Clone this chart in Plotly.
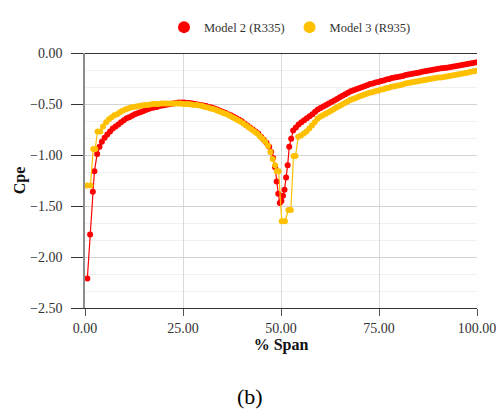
import plotly.graph_objects as go

# ---- data ----
series_names = ["Model 2 (R335)", "Model 3 (R935)"]

span_m2 = [0.6, 1.3, 2.0, 2.4, 3.1, 3.7, 4.3, 5.0, 5.7, 6.4, 7.1, 7.8, 8.5, 9.2, 9.9,
           10.6, 11.3, 12.0, 12.7, 13.4, 14.1, 14.8, 15.5, 16.2, 16.9, 17.6, 18.3, 19.0, 19.7,
           20.4, 21.1, 21.8, 22.5, 23.2, 23.9, 24.6, 25.3, 26.0, 26.7, 27.4, 28.1, 28.8, 29.5,
           30.2, 30.9, 31.6, 32.3, 33.0, 33.7, 34.4, 35.1, 35.8, 36.5, 37.2, 37.9, 38.6, 39.3,
           40.0, 40.7, 41.4, 42.1, 42.8, 43.5, 44.2, 44.9, 45.6, 46.3, 47.0, 47.5, 48.0, 48.5,
           48.9, 49.3, 49.7, 50.1, 50.5, 50.9, 51.3, 51.7, 52.1, 52.6, 53.1,
           53.8, 54.5, 55.2, 55.9, 56.6, 57.3, 58.0, 58.7, 59.4, 60.1, 60.8, 61.5, 62.2, 62.9,
           63.6, 64.3, 65.0, 65.7, 66.4, 67.1, 67.8, 68.5, 69.2, 69.9, 70.6, 71.3, 72.0, 72.7,
           73.4, 74.1, 74.8, 75.5, 76.2, 76.9, 77.6, 78.3, 79.0, 79.7, 80.4, 81.1, 81.8, 82.5,
           83.2, 83.9, 84.6, 85.3, 86.0, 86.7, 87.4, 88.1, 88.8, 89.5, 90.2, 90.9, 91.6, 92.3,
           93.0, 93.7, 94.4, 95.1, 95.8, 96.5, 97.2, 97.9, 98.6, 99.3, 100.0]
cpe_m2 = [-2.21, -1.78, -1.36, -1.16, -0.99, -0.92, -0.87, -0.83, -0.80, -0.77, -0.74, -0.72, -0.70, -0.68, -0.66,
          -0.64, -0.63, -0.615, -0.60, -0.59, -0.58, -0.57, -0.56, -0.55, -0.54, -0.535, -0.53, -0.52, -0.515,
          -0.51, -0.505, -0.50, -0.495, -0.49, -0.485, -0.485, -0.485, -0.49, -0.49, -0.495, -0.50, -0.505, -0.51,
          -0.515, -0.52, -0.53, -0.535, -0.545, -0.555, -0.565, -0.575, -0.585, -0.60, -0.61, -0.625, -0.64, -0.655,
          -0.67, -0.69, -0.71, -0.73, -0.75, -0.77, -0.79, -0.82, -0.85, -0.88, -0.92, -0.97, -1.03, -1.12,
          -1.26, -1.38, -1.47, -1.45, -1.40, -1.34, -1.22, -1.10, -0.92, -0.84, -0.76,
          -0.73, -0.70, -0.68, -0.66, -0.64, -0.62, -0.60, -0.575, -0.555, -0.54, -0.525, -0.51, -0.495, -0.48,
          -0.465, -0.45, -0.435, -0.42, -0.405, -0.39, -0.375, -0.365, -0.355, -0.345, -0.335, -0.325, -0.315, -0.305,
          -0.30, -0.29, -0.285, -0.275, -0.27, -0.26, -0.255, -0.245, -0.24, -0.235, -0.23, -0.225, -0.215, -0.21,
          -0.205, -0.20, -0.195, -0.19, -0.185, -0.18, -0.175, -0.17, -0.165, -0.16, -0.155, -0.15, -0.148, -0.145,
          -0.14, -0.135, -0.13, -0.125, -0.12, -0.115, -0.11, -0.105, -0.10, -0.095, -0.09]

span_m3 = [0.4, 1.4, 2.1, 2.6, 3.2, 3.9, 4.6, 5.4, 6.1, 6.8, 7.5, 8.2, 8.9, 9.6, 10.3,
           11.0, 11.7, 12.4, 13.1, 13.8, 14.5, 15.2, 15.9, 16.6, 17.3, 18.0, 18.7, 19.4, 20.1,
           20.8, 21.5, 22.2, 22.9, 23.6, 24.3, 25.0, 25.7, 26.4, 27.1, 27.8, 28.5, 29.2, 29.9,
           30.6, 31.3, 32.0, 32.7, 33.4, 34.1, 34.8, 35.5, 36.2, 36.9, 37.6, 38.3, 39.0, 39.7,
           40.4, 41.1, 41.8, 42.5, 43.2, 43.9, 44.6, 45.3, 46.0, 46.7, 47.3, 47.9, 48.5, 48.9,
           49.4, 50.2, 51.0, 51.9, 52.5, 53.2, 53.7, 54.4, 55.1, 55.8, 56.5, 57.2, 57.9, 58.6,
           59.3, 60.0, 60.7, 61.4, 62.1, 62.8, 63.5, 64.2, 64.9, 65.6, 66.3, 67.0, 67.7, 68.4,
           69.1, 69.8, 70.5, 71.2, 71.9, 72.6, 73.3, 74.0, 74.7, 75.4, 76.1, 76.8, 77.5, 78.2,
           78.9, 79.6, 80.3, 81.0, 81.7, 82.4, 83.1, 83.8, 84.5, 85.2, 85.9, 86.6, 87.3, 88.0,
           88.7, 89.4, 90.1, 90.8, 91.5, 92.2, 92.9, 93.6, 94.3, 95.0, 95.7, 96.4, 97.1, 97.8,
           98.5, 99.2, 99.9]
cpe_m3 = [-1.30, -1.30, -0.94, -0.94, -0.77, -0.77, -0.72, -0.68, -0.65, -0.63, -0.61, -0.60, -0.58, -0.565, -0.555,
          -0.545, -0.535, -0.53, -0.525, -0.52, -0.515, -0.51, -0.51, -0.505, -0.50, -0.50, -0.50, -0.495, -0.495,
          -0.495, -0.495, -0.495, -0.495, -0.495, -0.495, -0.50, -0.50, -0.50, -0.505, -0.51, -0.51, -0.515, -0.52,
          -0.53, -0.535, -0.545, -0.55, -0.56, -0.57, -0.58, -0.59, -0.60, -0.615, -0.63, -0.645, -0.66, -0.675,
          -0.69, -0.71, -0.73, -0.75, -0.77, -0.79, -0.815, -0.84, -0.87, -0.91, -0.97, -1.04, -1.10, -1.16,
          -1.16, -1.65, -1.65, -1.54, -1.54, -1.01, -1.01, -0.82, -0.81, -0.79, -0.77, -0.74, -0.71, -0.68,
          -0.645, -0.625, -0.61, -0.595, -0.58, -0.565, -0.55, -0.535, -0.52, -0.505, -0.49, -0.475, -0.46, -0.45,
          -0.44, -0.43, -0.42, -0.41, -0.40, -0.39, -0.385, -0.375, -0.37, -0.36, -0.355, -0.345, -0.34, -0.33,
          -0.325, -0.32, -0.315, -0.31, -0.30, -0.295, -0.29, -0.285, -0.28, -0.275, -0.27, -0.265, -0.26, -0.255,
          -0.25, -0.245, -0.24, -0.24, -0.235, -0.23, -0.225, -0.22, -0.215, -0.21, -0.205, -0.20, -0.195, -0.19,
          -0.185, -0.18, -0.175]

x_ticks = [0, 25, 50, 75, 100]
y_ticks = [0, -0.5, -1.0, -1.5, -2.0, -2.5]
y_minor = [-1/6, -2/6, -4/6, -5/6, -7/6, -8/6, -10/6, -11/6, -13/6, -14/6]

RED = "#ff0000"
YEL = "#ffc000"
FONT = "Liberation Serif"

fig = go.Figure()
fig.add_trace(go.Scatter(x=span_m2, y=cpe_m2, mode="lines+markers", showlegend=False,
                         line=dict(color=RED, width=1.2), marker=dict(color=RED, size=6)))
fig.add_trace(go.Scatter(x=span_m3, y=cpe_m3, mode="lines+markers", showlegend=False,
                         line=dict(color=YEL, width=1.2), marker=dict(color=YEL, size=6)))
for name, col in zip(series_names, [RED, YEL]):
    fig.add_trace(go.Scatter(x=[None], y=[None], mode="markers", name=name,
                             marker=dict(color=col, size=12)))

fig.update_layout(
    width=500, height=416,
    margin=dict(l=85, r=23, t=48, b=108),
    paper_bgcolor="white", plot_bgcolor="white",
    font=dict(family=FONT, color="#333333", size=13),
    legend=dict(orientation="h", x=(290 - 85) / 392, xanchor="center",
                y=1.0 + (48 - 22) / 260, yanchor="middle",
                font=dict(family=FONT, size=12.5, color="#333333"),
                itemsizing="constant", tracegroupgap=0),
    annotations=[dict(text="(b)", x=(250 - 85) / 392, xref="paper",
                      y=-(398 - 308) / 260, yref="paper", yanchor="middle",
                      showarrow=False, font=dict(family=FONT, size=22, color="#000000"))],
)

fig.update_xaxes(
    range=[0, 100], tickvals=x_ticks, tickformat=".2f", automargin=False,
    showgrid=True, gridcolor="#d9d9d9", gridwidth=1,
    showline=True, linecolor="#333333", linewidth=1,
    ticks="outside", ticklen=7, tickcolor="#555555", tickwidth=1,
    zeroline=False,
    tickfont=dict(family=FONT, size=14, color="#333333"),
    title=dict(text="<b>% Span</b>", font=dict(family=FONT, size=16, color="#111111"), standoff=0),
)
fig.update_yaxes(
    range=[-2.5, 0], tickvals=y_ticks, tickformat=".2f", automargin=False,
    showgrid=True, gridcolor="#d4d4d4", gridwidth=1,
    minor=dict(tickvals=y_minor, showgrid=True, gridcolor="#f0f0f0", ticks=""),
    showline=True, linecolor="#8c8c8c", linewidth=1.5,
    ticks="outside", ticklen=12, tickcolor="#333333", tickwidth=1,
    zeroline=True, zerolinecolor="#333333", zerolinewidth=1,
    tickfont=dict(family=FONT, size=14, color="#333333"),
    ticklabelstandoff=6,
    title=dict(text="<b>Cpe</b>", font=dict(family=FONT, size=16, color="#111111"), standoff=0),
)

fig.write_html("out.html")
